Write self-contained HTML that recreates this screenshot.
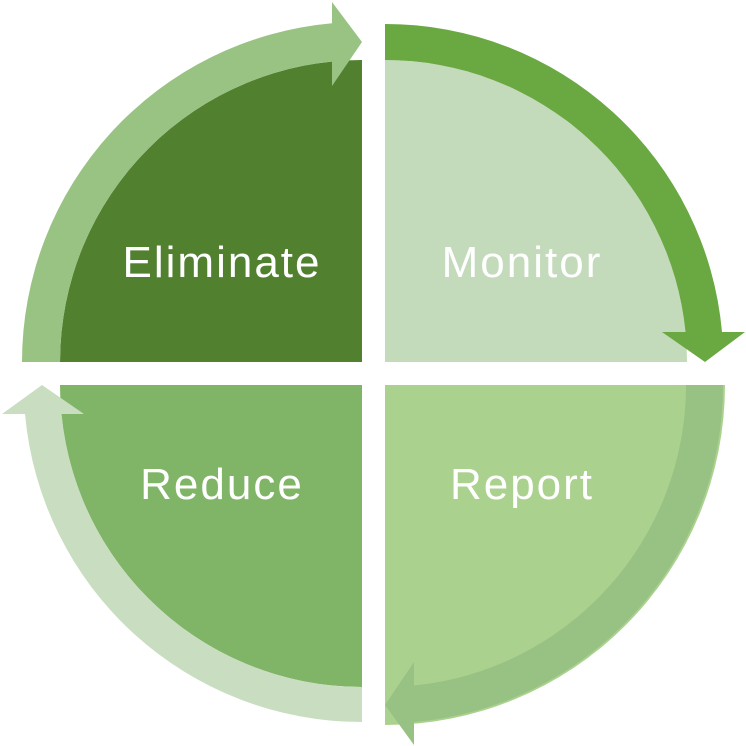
<!DOCTYPE html>
<html><head><style>
html,body{margin:0;padding:0;background:#fff;}
svg{display:block;}
text{font-family:"Liberation Sans",sans-serif;font-size:44px;fill:#fff;letter-spacing:2px;}
</style></head><body>
<svg width="746" height="746" viewBox="0 0 746 746" xmlns="http://www.w3.org/2000/svg">
<!-- TL -->
<path d="M362 362 L60 362 A302 302 0 0 1 362 60 Z" fill="#51802f"/>
<path d="M60 362 L22 362 A340 340 0 0 1 332 23.3 L332 2 L362 42 L332 86 L332 61.5 A302 302 0 0 0 60 362 Z" fill="#98c383"/>
<!-- TR -->
<path d="M385 362 L385 60 A302 302 0 0 1 687 362 Z" fill="#c3dabb"/>
<path d="M385 24 A338 338 0 0 1 722 332 L745 332 L705 362 L662 332 L685.5 332 A302 302 0 0 0 385 60 Z" fill="#6aa842"/>
<!-- BR -->
<path d="M385 385 L725 385 A340 340 0 0 1 385 725 Z" fill="#abd18f"/>
<path d="M723 385 A338 338 0 0 1 414 722 L414 745 L385 705 L414 662 L414 685.5 A302 302 0 0 0 686 385 Z" fill="#98c283"/>
<!-- BL -->
<path d="M362 385 L362 687 A302 302 0 0 1 60 385 Z" fill="#80b466"/>
<path d="M362 722 A338 338 0 0 1 25 414 L2 414 L42 385 L84 414 L61.5 414 A302 302 0 0 0 362 687 Z" fill="#c9ddc1"/>
<text x="222" y="277" text-anchor="middle">Eliminate</text>
<text x="522" y="277" text-anchor="middle">Monitor</text>
<text x="222" y="499" text-anchor="middle">Reduce</text>
<text x="522" y="499" text-anchor="middle">Report</text>
</svg>
</body></html>
